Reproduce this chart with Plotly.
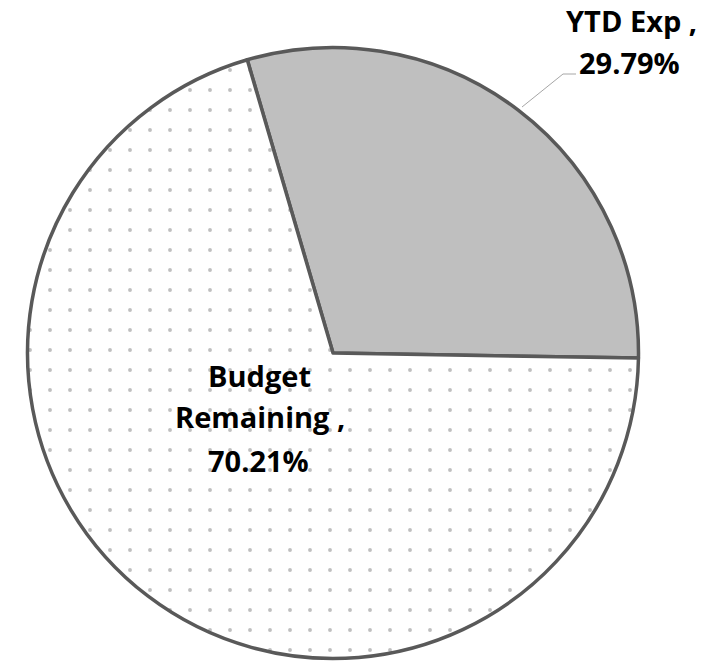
import plotly.graph_objects as go

labels = ["YTD Exp", "Budget Remaining"]
values = [29.79, 70.21]
label_lines = [["YTD Exp ,"], ["Budget", "Remaining ,"]]

W, H = 705, 661
fill_colors = ["#bfbfbf", "#ffffff"]

def px(x):
    return x / W

def py(y):
    return 1 - y / H

fig = go.Figure()
fig.add_trace(go.Pie(
    labels=labels,
    values=values,
    sort=False,
    direction="clockwise",
    rotation=-16.3,
    textinfo="none",
    hoverinfo="label+percent",
    showlegend=False,
    marker=dict(
        colors=fill_colors,
        line=dict(color="#595959", width=3.5),
        pattern=dict(shape=["", "."], fgcolor="#808080", bgcolor="#ffffff",
                     size=20, solidity=0.03, fillmode="overlay"),
    ),
    domain=dict(x=[px(27.5), px(638.5)], y=[py(658.5), py(47.5)]),
))

font = dict(family="Open Sans", size=29, color="#000000")
# line centres (pixels) for each label block
line_pos = [[(631, 21), (629, 62.5)], [(259, 375), (259.5, 417), (258.5, 460)]]
for i in range(len(labels)):
    lines = label_lines[i] + [f"{values[i]:.2f}%"]
    for txt, (x, y) in zip(lines, line_pos[i]):
        fig.add_annotation(x=px(x), y=py(y), xref="paper", yref="paper", text="<b>" + txt + "</b>",
                           showarrow=False, font=font, xanchor="center", yanchor="middle")

fig.add_shape(type="path", xref="paper", yref="paper",
              path=f"M {px(522)} {py(107)} L {px(563)} {py(74)} L {px(576)} {py(74)}",
              line=dict(color="#a6a6a6", width=1))

fig.update_layout(
    width=W, height=H,
    margin=dict(l=0, r=0, t=0, b=0),
    paper_bgcolor="white", plot_bgcolor="white",
)
fig.write_html("out.html")
